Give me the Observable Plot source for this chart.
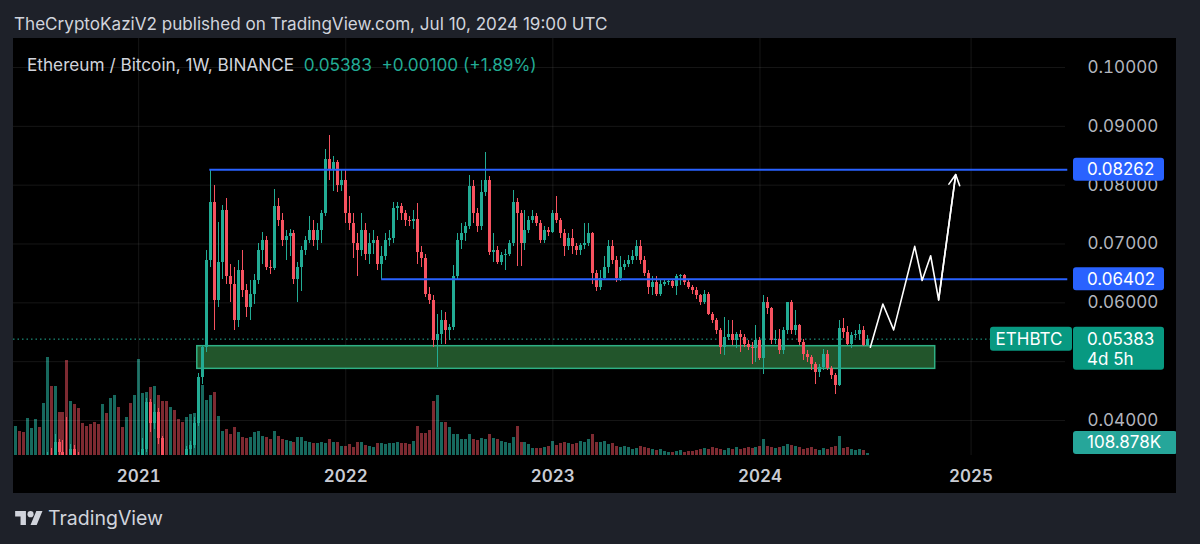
<!DOCTYPE html>
<html><head><meta charset="utf-8">
<script src="https://cdn.jsdelivr.net/npm/d3@7"></script>
<script src="https://cdn.jsdelivr.net/npm/@observablehq/plot@0.6"></script>
<style>
html,body{margin:0;padding:0;}
body{width:1200px;height:544px;background:#1e2129;overflow:hidden;font-family:Inter,"Noto Sans",sans-serif;position:relative;}
#title{position:absolute;left:14px;top:13px;font-size:17.1px;line-height:22px;color:#d1d4dc;white-space:nowrap;}
#pane{position:absolute;left:13px;top:38px;width:1163px;height:455px;background:#000;overflow:hidden;}
#pane svg{position:absolute;left:0;top:0;}
#legend{position:absolute;left:14px;top:16px;font-size:17.2px;line-height:22px;color:#d1d4dc;white-space:pre;z-index:5;}
#legend .v{color:#22ab94;}
#footer{position:absolute;left:15px;top:505px;height:26px;display:flex;align-items:center;gap:5px;color:#d1d4dc;font-size:19.5px;}
</style></head>
<body>
<div id="title">TheCryptoKaziV2 published on TradingView.com, Jul 10, 2024 19:00 UTC</div>
<div id="pane"><div id="legend"></div></div>
<div id="footer"><svg width="28" height="20" viewBox="0 0 36 26"><path d="M14 22H7V11H0V4h14v18zM28 22h-8l7.5-18h8L28 22z" fill="#d1d4dc"/><circle cx="20" cy="8" r="4" fill="#d1d4dc"/></svg><span>TradingView</span></div>
<script>
// ---------- data (weekly ETH/BTC, Binance) ----------
const firstWeek = "2020-06-01", lastWeek = "2024-07-08";
const firstOpen = 0.0250;

const closes2020 = [0.0253,0.0248,0.0246,0.0249,0.0256,0.0258,0.0255,0.0290,0.0340,0.0334,0.0363,0.0345,0.0340,0.0335,0.0350,0.0340,0.0333,0.0320,0.0318,0.0315,0.0310,0.0282,0.0290,0.0286,0.0300,0.0305,0.0300,0.0296,0.0298,0.0258,0.0309];
const highs2020  = [0.0262,0.0256,0.0252,0.0254,0.0260,0.0264,0.0260,0.0295,0.0345,0.0352,0.0377,0.0368,0.0366,0.0405,0.0360,0.0358,0.0345,0.0338,0.0330,0.0328,0.0325,0.0315,0.0296,0.0296,0.0312,0.0320,0.0312,0.0305,0.0310,0.0300,0.0315];
const lows2020   = [0.0243,0.0244,0.0241,0.0243,0.0246,0.0252,0.0251,0.0254,0.0282,0.0325,0.0330,0.0336,0.0333,0.0325,0.0328,0.0335,0.0320,0.0315,0.0310,0.0305,0.0300,0.0278,0.0276,0.0280,0.0283,0.0288,0.0294,0.0290,0.0270,0.0248,0.0250];

const closes2021 = [0.0330,0.0350,0.0431,0.0395,0.0414,0.0369,0.0330,0.0315,0.0320,0.0305,0.0302,0.0300,0.0350,0.0358,0.0395,0.0473,0.0524,0.0672,0.0771,0.0604,0.0669,0.0757,0.0644,0.0632,0.0570,0.0655,0.0621,0.0592,0.0615,0.0638,0.0689,0.0706,0.0660,0.0658,0.0763,0.0740,0.0706,0.0712,0.0717,0.0640,0.0660,0.0689,0.0706,0.0723,0.0706,0.0723,0.0751,0.0843,0.0825,0.0838,0.0799,0.0808];
const highs2021  = [0.0345,0.0370,0.0438,0.0435,0.0428,0.0420,0.0372,0.0340,0.0330,0.0325,0.0312,0.0308,0.0355,0.0365,0.0405,0.0480,0.0527,0.0689,0.0826,0.0799,0.0737,0.0765,0.0777,0.0666,0.0660,0.0672,0.0689,0.0632,0.0638,0.0649,0.0700,0.0720,0.0712,0.0672,0.0793,0.0777,0.0751,0.0723,0.0725,0.0723,0.0668,0.0695,0.0712,0.0746,0.0740,0.0734,0.0757,0.0860,0.0884,0.0848,0.0842,0.0825];
const lows2021   = [0.0300,0.0320,0.0345,0.0380,0.0385,0.0360,0.0325,0.0302,0.0305,0.0300,0.0296,0.0290,0.0298,0.0340,0.0352,0.0390,0.0462,0.0515,0.0660,0.0553,0.0592,0.0640,0.0632,0.0600,0.0553,0.0558,0.0609,0.0575,0.0570,0.0598,0.0632,0.0666,0.0655,0.0649,0.0655,0.0729,0.0695,0.0672,0.0678,0.0632,0.0600,0.0620,0.0680,0.0700,0.0695,0.0689,0.0700,0.0746,0.0808,0.0790,0.0788,0.0790];

const closes2022 = [0.0751,0.0734,0.0700,0.0689,0.0723,0.0683,0.0700,0.0706,0.0666,0.0678,0.0706,0.0710,0.0760,0.0763,0.0751,0.0740,0.0738,0.0742,0.0686,0.0675,0.0615,0.0604,0.0536,0.0547,0.0570,0.0553,0.0558,0.0644,0.0706,0.0717,0.0729,0.0797,0.0751,0.0729,0.0788,0.0808,0.0686,0.0689,0.0669,0.0680,0.0683,0.0700,0.0771,0.0751,0.0700,0.0723,0.0740,0.0746,0.0734,0.0706,0.0723,0.0720];
const highs2022  = [0.0827,0.0780,0.0751,0.0717,0.0752,0.0734,0.0717,0.0723,0.0712,0.0695,0.0717,0.0723,0.0771,0.0771,0.0768,0.0757,0.0746,0.0757,0.0768,0.0695,0.0683,0.0626,0.0612,0.0581,0.0587,0.0584,0.0564,0.0664,0.0717,0.0734,0.0737,0.0816,0.0808,0.0760,0.0808,0.0856,0.0814,0.0717,0.0695,0.0686,0.0690,0.0706,0.0791,0.0777,0.0757,0.0757,0.0746,0.0757,0.0751,0.0740,0.0729,0.0728];
const lows2022   = [0.0734,0.0723,0.0676,0.0644,0.0678,0.0672,0.0666,0.0683,0.0655,0.0640,0.0672,0.0695,0.0700,0.0740,0.0740,0.0729,0.0730,0.0725,0.0666,0.0660,0.0609,0.0598,0.0524,0.0490,0.0530,0.0530,0.0536,0.0553,0.0638,0.0690,0.0705,0.0725,0.0734,0.0720,0.0723,0.0780,0.0680,0.0669,0.0666,0.0663,0.0655,0.0678,0.0695,0.0661,0.0661,0.0689,0.0717,0.0734,0.0729,0.0700,0.0700,0.0712];

const closes2023 = [0.0751,0.0740,0.0717,0.0695,0.0709,0.0695,0.0689,0.0697,0.0700,0.0717,0.0650,0.0626,0.0641,0.0660,0.0695,0.0672,0.0641,0.0660,0.0666,0.0672,0.0678,0.0695,0.0672,0.0650,0.0626,0.0635,0.0615,0.0632,0.0635,0.0636,0.0628,0.0644,0.0646,0.0635,0.0626,0.0621,0.0612,0.0601,0.0615,0.0581,0.0570,0.0553,0.0524,0.0541,0.0547,0.0536,0.0547,0.0541,0.0530,0.0524,0.0522,0.0536];
const highs2023  = [0.0757,0.0780,0.0743,0.0725,0.0717,0.0725,0.0700,0.0700,0.0734,0.0734,0.0720,0.0655,0.0655,0.0678,0.0706,0.0706,0.0678,0.0678,0.0672,0.0680,0.0689,0.0706,0.0706,0.0678,0.0655,0.0644,0.0644,0.0638,0.0640,0.0640,0.0640,0.0649,0.0649,0.0649,0.0640,0.0630,0.0626,0.0615,0.0621,0.0618,0.0584,0.0573,0.0556,0.0575,0.0570,0.0570,0.0550,0.0553,0.0547,0.0536,0.0533,0.0561];
const lows2023   = [0.0717,0.0734,0.0710,0.0678,0.0689,0.0683,0.0680,0.0680,0.0690,0.0695,0.0632,0.0620,0.0621,0.0638,0.0650,0.0666,0.0635,0.0636,0.0655,0.0660,0.0666,0.0672,0.0666,0.0644,0.0615,0.0612,0.0610,0.0610,0.0628,0.0630,0.0624,0.0612,0.0630,0.0630,0.0622,0.0615,0.0606,0.0595,0.0598,0.0578,0.0565,0.0547,0.0513,0.0510,0.0536,0.0527,0.0522,0.0516,0.0524,0.0519,0.0496,0.0499];

const closes2024 = [0.0505,0.0600,0.0590,0.0536,0.0538,0.0519,0.0553,0.0600,0.0553,0.0561,0.0533,0.0513,0.0507,0.0496,0.0482,0.0490,0.0513,0.0488,0.0476,0.0460,0.0556,0.0550,0.0530,0.0544,0.0547,0.0553,0.05283,0.05383];
const highs2024  = [0.0541,0.0612,0.0609,0.0592,0.0553,0.0555,0.0558,0.0601,0.0604,0.0587,0.0564,0.0538,0.0519,0.0510,0.0499,0.0496,0.0521,0.0519,0.0491,0.0480,0.0570,0.0573,0.0560,0.0550,0.0553,0.0564,0.0560,0.0545];
const lows2024   = [0.0502,0.0479,0.0580,0.0530,0.0530,0.0513,0.0513,0.0547,0.0547,0.0545,0.0527,0.0502,0.0499,0.0485,0.0462,0.0473,0.0485,0.0485,0.0470,0.0445,0.0457,0.0540,0.0527,0.0522,0.0540,0.0536,0.0525,0.0527];

// weekly volume, thousands of ETH
const volume2020 = [1450,1200,1150,1850,1350,1800,1400,2600,4900,3450,3450,2150,2150,4750,2700,2550,2350,1600,1450,1550,1650,1550,2550,2100,2850,3000,2400,1400,1900,2600,3000];
const volume2021 = [4800,3100,3150,3400,3450,3000,2700,2700,2400,2250,1800,1650,1900,2050,2100,2500,3500,2750,3000,3150,1950,1200,1300,1050,1400,1150,900,850,900,1150,1200,950,900,800,1200,950,800,750,700,650,900,900,700,650,600,600,650,600,800,650,650,450];
const volume2022 = [450,550,400,650,650,500,450,400,600,600,550,600,600,650,600,600,550,700,1450,1100,1100,1250,2700,3000,1650,1650,1400,1050,1050,800,800,1050,800,750,850,800,1050,850,800,700,650,600,900,1450,650,650,550,350,350,350,400,450];
const volume2023 = [700,500,600,650,600,550,600,700,650,800,1050,650,650,700,550,600,450,400,450,400,300,350,450,400,350,300,250,300,200,150,150,200,250,150,200,200,250,300,350,300,400,350,300,250,350,300,400,300,350,400,350,400];
const volume2024 = [450,800,450,400,350,400,450,550,500,450,400,300,350,400,300,250,350,300,400,450,950,350,400,300,250,300,250,108.878];

// price axis ticks, year ticks
const priceGrid = [0.04,0.05,0.06,0.07,0.08,0.09,0.10];
const priceTickLabels = [0.04,0.06,0.07,0.08,0.09,0.10];
const yearTickDates = ["2021-01-04","2022-01-03","2023-01-02","2024-01-01","2025-01-06"];
const yearTickLabels = ["2021","2022","2023","2024","2025"];

// drawings
const levelValues = [0.08262, 0.06402];
const levelStarts = ["2021-05-09","2022-03-07"];
const zoneStart = "2021-04-17", zoneEnd = "2024-11-04";
const zoneLow = 0.04878, zoneHigh = 0.05263;
const forecastDates  = ["2024-07-13","2024-08-04","2024-08-23","2024-09-29","2024-10-12","2024-10-27","2024-11-10","2024-12-10"];
const forecastPrices = [0.05246,0.0598,0.0554,0.0696,0.0638,0.0680,0.0605,0.0818];
const countdown = "4d 5h";
const symbol = "ETHBTC";

// ---------- build ----------
const up = "#22ab94", down = "#f7525f";
const volUp = "#17695e", volDown = "#7d2a31";
const font = "Inter, 'Noto Sans', sans-serif";

const closes = [].concat(closes2020, closes2021, closes2022, closes2023, closes2024);
const highs = [].concat(highs2020, highs2021, highs2022, highs2023, highs2024);
const lows = [].concat(lows2020, lows2021, lows2022, lows2023, lows2024);
const volumes = [].concat(volume2020, volume2021, volume2022, volume2023, volume2024);
const weeks = d3.utcMonday.range(new Date(firstWeek), d3.utcDay.offset(new Date(lastWeek), 1));
const candles = weeks.map((d, i) => {
  const open = i === 0 ? firstOpen : closes[i - 1];
  return {date: d, open, high: highs[i], low: lows[i], close: closes[i], volume: volumes[i], up: closes[i] >= open};
});
const last = candles[candles.length - 1], prev = candles[candles.length - 2];

const yearTicks = yearTickDates.map(d => new Date(d));
const yearLabel = new Map(yearTicks.map((d, i) => [+d, yearTickLabels[i]]));
const levels = levelValues.map((v, i) => ({value: v, start: new Date(levelStarts[i]), end: new Date("2025-06-25")}));
const zone = [{start: new Date(zoneStart), end: new Date(zoneEnd), low: zoneLow, high: zoneHigh}];
const forecast = forecastDates.map((d, i) => ({date: new Date(d), price: forecastPrices[i]}));
const fa = forecast[forecast.length - 2], fb = forecast[forecast.length - 1];

const W = 1163, H = 455, MR = 111, MB = 38;
const xScale = {type: "utc", domain: [new Date("2020-05-29"), new Date("2025-06-21")]};

// legend
const fmt5 = d3.format(".5f");
document.getElementById("legend").innerHTML =
  `Ethereum / Bitcoin, 1W, BINANCE  <span class="v">${fmt5(last.close)}  ${d3.format("+.5f")(last.close - prev.close)} (${d3.format("+.2%")((last.close - prev.close) / prev.close)})</span>`;

// volume pane (behind)
const vol = Plot.plot({
  width: W, height: H, marginLeft: 0, marginRight: MR, marginTop: 0, marginBottom: MB,
  style: {background: "transparent", overflow: "visible"},
  x: {...xScale, axis: null},
  y: {domain: [0, 20850], axis: null},
  color: {type: "identity"},
  marks: [
    Plot.ruleX(candles, {x: "date", y1: 0, y2: "volume", stroke: d => d.up ? volUp : volDown, strokeWidth: 3, clip: true, shapeRendering: "crispEdges"})
  ]
});

// price pane
const price = Plot.plot({
  width: W, height: H, marginLeft: 0, marginRight: MR, marginTop: 0, marginBottom: MB,
  style: {background: "transparent", fontFamily: font, overflow: "visible"},
  x: xScale,
  y: {domain: [0.034051, 0.104929]},
  color: {type: "identity"},
  marks: [
    Plot.gridY(priceGrid, {stroke: "#ffffff", strokeOpacity: 0.085}),
    Plot.gridX(yearTicks, {stroke: "#ffffff", strokeOpacity: 0.085}),
    Plot.axisY(priceTickLabels, {anchor: "right", tickSize: 0, tickPadding: 22, tickFormat: fmt5, fontSize: 17, fill: "#b2b5be", label: null}),
    Plot.axisX(yearTicks, {anchor: "bottom", tickSize: 0, tickPadding: 14, tickFormat: d => yearLabel.get(+d), fontSize: 17, fontWeight: 600, fill: "#c9ccd4", label: null}),
    Plot.ruleY([last.close], {stroke: "#22ab94", strokeWidth: 1, strokeDasharray: "1.5,3"}),
    Plot.rect(zone, {x1: "start", x2: "end", y1: "low", y2: "high", fill: "#22552b", stroke: "#2fb084", strokeWidth: 1.5}),
    Plot.ruleX(candles, {x: "date", y1: "low", y2: "high", stroke: d => d.up ? up : down, strokeWidth: 1, clip: true, shapeRendering: "crispEdges"}),
    Plot.ruleX(candles, {x: "date", y1: "open", y2: "close", stroke: d => d.up ? up : down, strokeWidth: 3, clip: true, shapeRendering: "crispEdges"}),
    Plot.ruleY(levels, {y: "value", x1: "start", x2: "end", stroke: "#2962ff", strokeWidth: 2}),
    Plot.line(forecast, {x: "date", y: "price", stroke: "#ffffff", strokeWidth: 1.6}),
    Plot.arrow([{a: fa, b: fb}], {x1: d => d.a.date, y1: d => d.a.price, x2: d => d.b.date, y2: d => d.b.price, stroke: "#ffffff", strokeWidth: 1.6, headLength: 11, headAngle: 55})
  ]
});

const pane = document.getElementById("pane");
pane.appendChild(vol);
pane.appendChild(price);

// price-scale labels, placed with the plot's own y scale
const ys = price.scale("y");
const g = d3.select(price).append("g").attr("font-family", font).attr("font-size", 17).attr("fill", "#ffffff").attr("text-anchor", "start");
const axX = W - MR + 8; // label box left edge
function box(sel, x, yTop, w, h, fill) {
  sel.append("rect").attr("x", x).attr("y", yTop).attr("width", w).attr("height", h).attr("rx", 3).attr("fill", fill);
}
for (const v of levelValues) {
  const c = ys.apply(v);
  box(g, axX, c - 11.5, 91, 23, "#2962ff");
  g.append("text").attr("x", axX + 14).attr("y", c).attr("dy", "0.35em").attr("text-anchor", "start").text(fmt5(v));
}
{
  const c = ys.apply(last.close);
  box(g, W - MR - 75, c - 12, 82, 24, "#089981");
  g.append("text").attr("x", W - MR - 36).attr("y", c).attr("dy", "0.35em").attr("text-anchor", "middle").text(symbol);
  box(g, axX, c - 12, 91, 43, "#089981");
  g.append("text").attr("x", axX + 14).attr("y", c).attr("dy", "0.35em").attr("text-anchor", "start").text(fmt5(last.close));
  g.append("text").attr("x", axX + 14).attr("y", c + 20).attr("dy", "0.35em").attr("text-anchor", "start").text(countdown);
}
{
  const yv = vol.scale("y");
  const c = Math.min(yv.apply(last.volume), H - MB - 12.5);
  const gv = d3.select(price).append("g").attr("font-family", font).attr("font-size", 17).attr("fill", "#ffffff");
  box(gv, axX, c - 11.5, 104, 23, "#26a69a");
  gv.append("text").attr("x", axX + 14).attr("y", c).attr("dy", "0.35em").attr("text-anchor", "start").text(d3.format(".3f")(last.volume) + "K");
}
</script>
</body></html>
